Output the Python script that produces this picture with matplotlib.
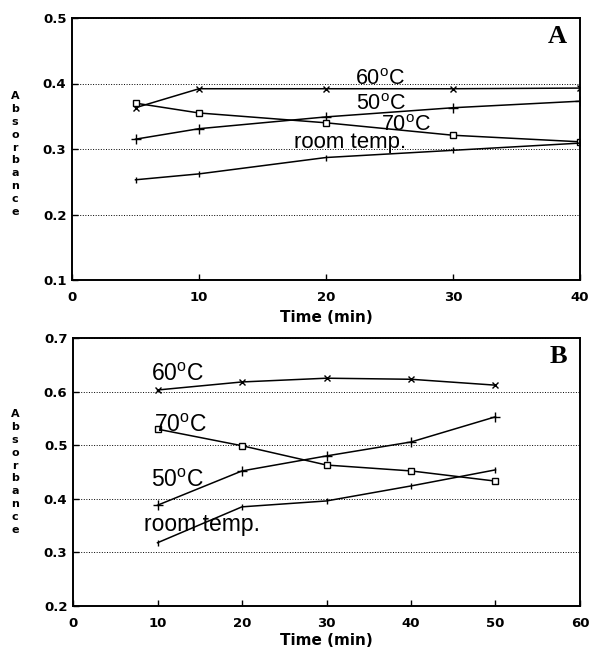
"""
Absorbance vs. time at different incubation temperatures (panels A and B).
"""
import matplotlib
matplotlib.use("Agg")
import matplotlib.pyplot as plt

plt.rcParams["font.family"] = ["DejaVu Sans"]
plt.rcParams["mathtext.fontset"] = "custom"
plt.rcParams["mathtext.rm"] = "Liberation Sans"

# panel A
time_a = [5, 10, 20, 30, 40]
a_60 = [0.363, 0.392, 0.392, 0.392, 0.393]
a_50 = [0.315, 0.331, 0.349, 0.363, 0.373]
a_70 = [0.370, 0.355, 0.340, 0.321, 0.311]
a_room = [0.253, 0.262, 0.287, 0.298, 0.309]

# panel B
time_b = [10, 20, 30, 40, 50]
b_60 = [0.603, 0.618, 0.625, 0.623, 0.612]
b_70 = [0.530, 0.499, 0.463, 0.452, 0.433]
b_50 = [0.388, 0.452, 0.480, 0.506, 0.553]
b_room = [0.318, 0.385, 0.396, 0.424, 0.454]

xticks_a = [0, 10, 20, 30, 40]
yticks_a = [0.1, 0.2, 0.3, 0.4, 0.5]
xticks_b = [0, 10, 20, 30, 40, 50, 60]
yticks_b = [0.2, 0.3, 0.4, 0.5, 0.6, 0.7]

W, H = 592, 655
fig = plt.figure(figsize=(W / 100, H / 100), dpi=100)
ax_a = fig.add_axes([72 / W, 1 - 280 / H, (580 - 72) / W, (280 - 18) / H])
ax_b = fig.add_axes([73 / W, 1 - 606 / H, (580 - 73) / W, (606 - 338) / H])

ANN = dict(family="Liberation Sans", fontweight="normal")


def deg(t):
    return t + r"$^{\mathrm{o}}$C"


def style(ax, xticks, yticks, xlim, ylim, labelpad):
    ax.set_xlim(*xlim)
    ax.set_ylim(*ylim)
    ax.set_xticks(xticks)
    ax.set_yticks(yticks)
    ax.set_xticklabels([f"{v:g}" for v in xticks], fontsize=9.5, fontweight="bold")
    ax.set_yticklabels([f"{v:.1f}" for v in yticks], fontsize=9.5, fontweight="bold")
    ax.tick_params(axis="x", direction="in", length=4, width=1, pad=8)
    ax.tick_params(axis="y", direction="in", length=4, width=1, pad=4)
    ax.yaxis.grid(True, linestyle=":", color="black", linewidth=0.7)
    for s in ax.spines.values():
        s.set_linewidth(1.4)
    ax.set_xlabel("Time (min)", fontsize=11, fontweight="bold", labelpad=labelpad)


line_kw = dict(color="black", linewidth=1.1)

ax_a.plot(time_a, a_60, marker="x", markersize=5, **line_kw)
ax_a.plot(time_a, a_50, marker="+", markersize=7, **line_kw)
ax_a.plot(time_a, a_70, marker="s", markersize=5, markerfacecolor="white", **line_kw)
ax_a.plot(time_a, a_room, marker="|", markersize=4, **line_kw)
style(ax_a, xticks_a, yticks_a, (0, 40), (0.1, 0.5), 4)

ax_a.text(22.3, 0.397, deg("60"), fontsize=15.5, **ANN)
ax_a.text(22.4, 0.359, deg("50"), fontsize=15.5, **ANN)
ax_a.text(24.3, 0.327, deg("70"), fontsize=15.5, **ANN)
ax_a.text(17.5, 0.301, "room temp.", fontsize=16, **ANN)
ax_a.text(0.975, 0.975, "A", transform=ax_a.transAxes, ha="right", va="top",
          fontsize=19, fontweight="bold", family="Liberation Serif")

ax_b.plot(time_b, b_60, marker="x", markersize=5, **line_kw)
ax_b.plot(time_b, b_70, marker="s", markersize=5, markerfacecolor="white", **line_kw)
ax_b.plot(time_b, b_50, marker="+", markersize=7, **line_kw)
ax_b.plot(time_b, b_room, marker="|", markersize=4, **line_kw)
style(ax_b, xticks_b, yticks_b, (0, 60), (0.2, 0.7), 2)

ax_b.text(9.2, 0.620, deg("60"), fontsize=16.5, **ANN)
ax_b.text(9.6, 0.524, deg("70"), fontsize=16.5, **ANN)
ax_b.text(9.2, 0.422, deg("50"), fontsize=16.5, **ANN)
ax_b.text(8.4, 0.340, "room temp.", fontsize=16.5, **ANN)
ax_b.text(0.975, 0.975, "B", transform=ax_b.transAxes, ha="right", va="top",
          fontsize=19, fontweight="bold", family="Liberation Serif")

# stacked-letter y labels
label = "\n".join("Absorbance")
for y_px in (154, 472):
    fig.text(15 / W, 1 - y_px / H, label, ha="center", va="center",
             fontsize=8, fontweight="bold", linespacing=1.35)

fig.savefig("out.png", dpi=100)
